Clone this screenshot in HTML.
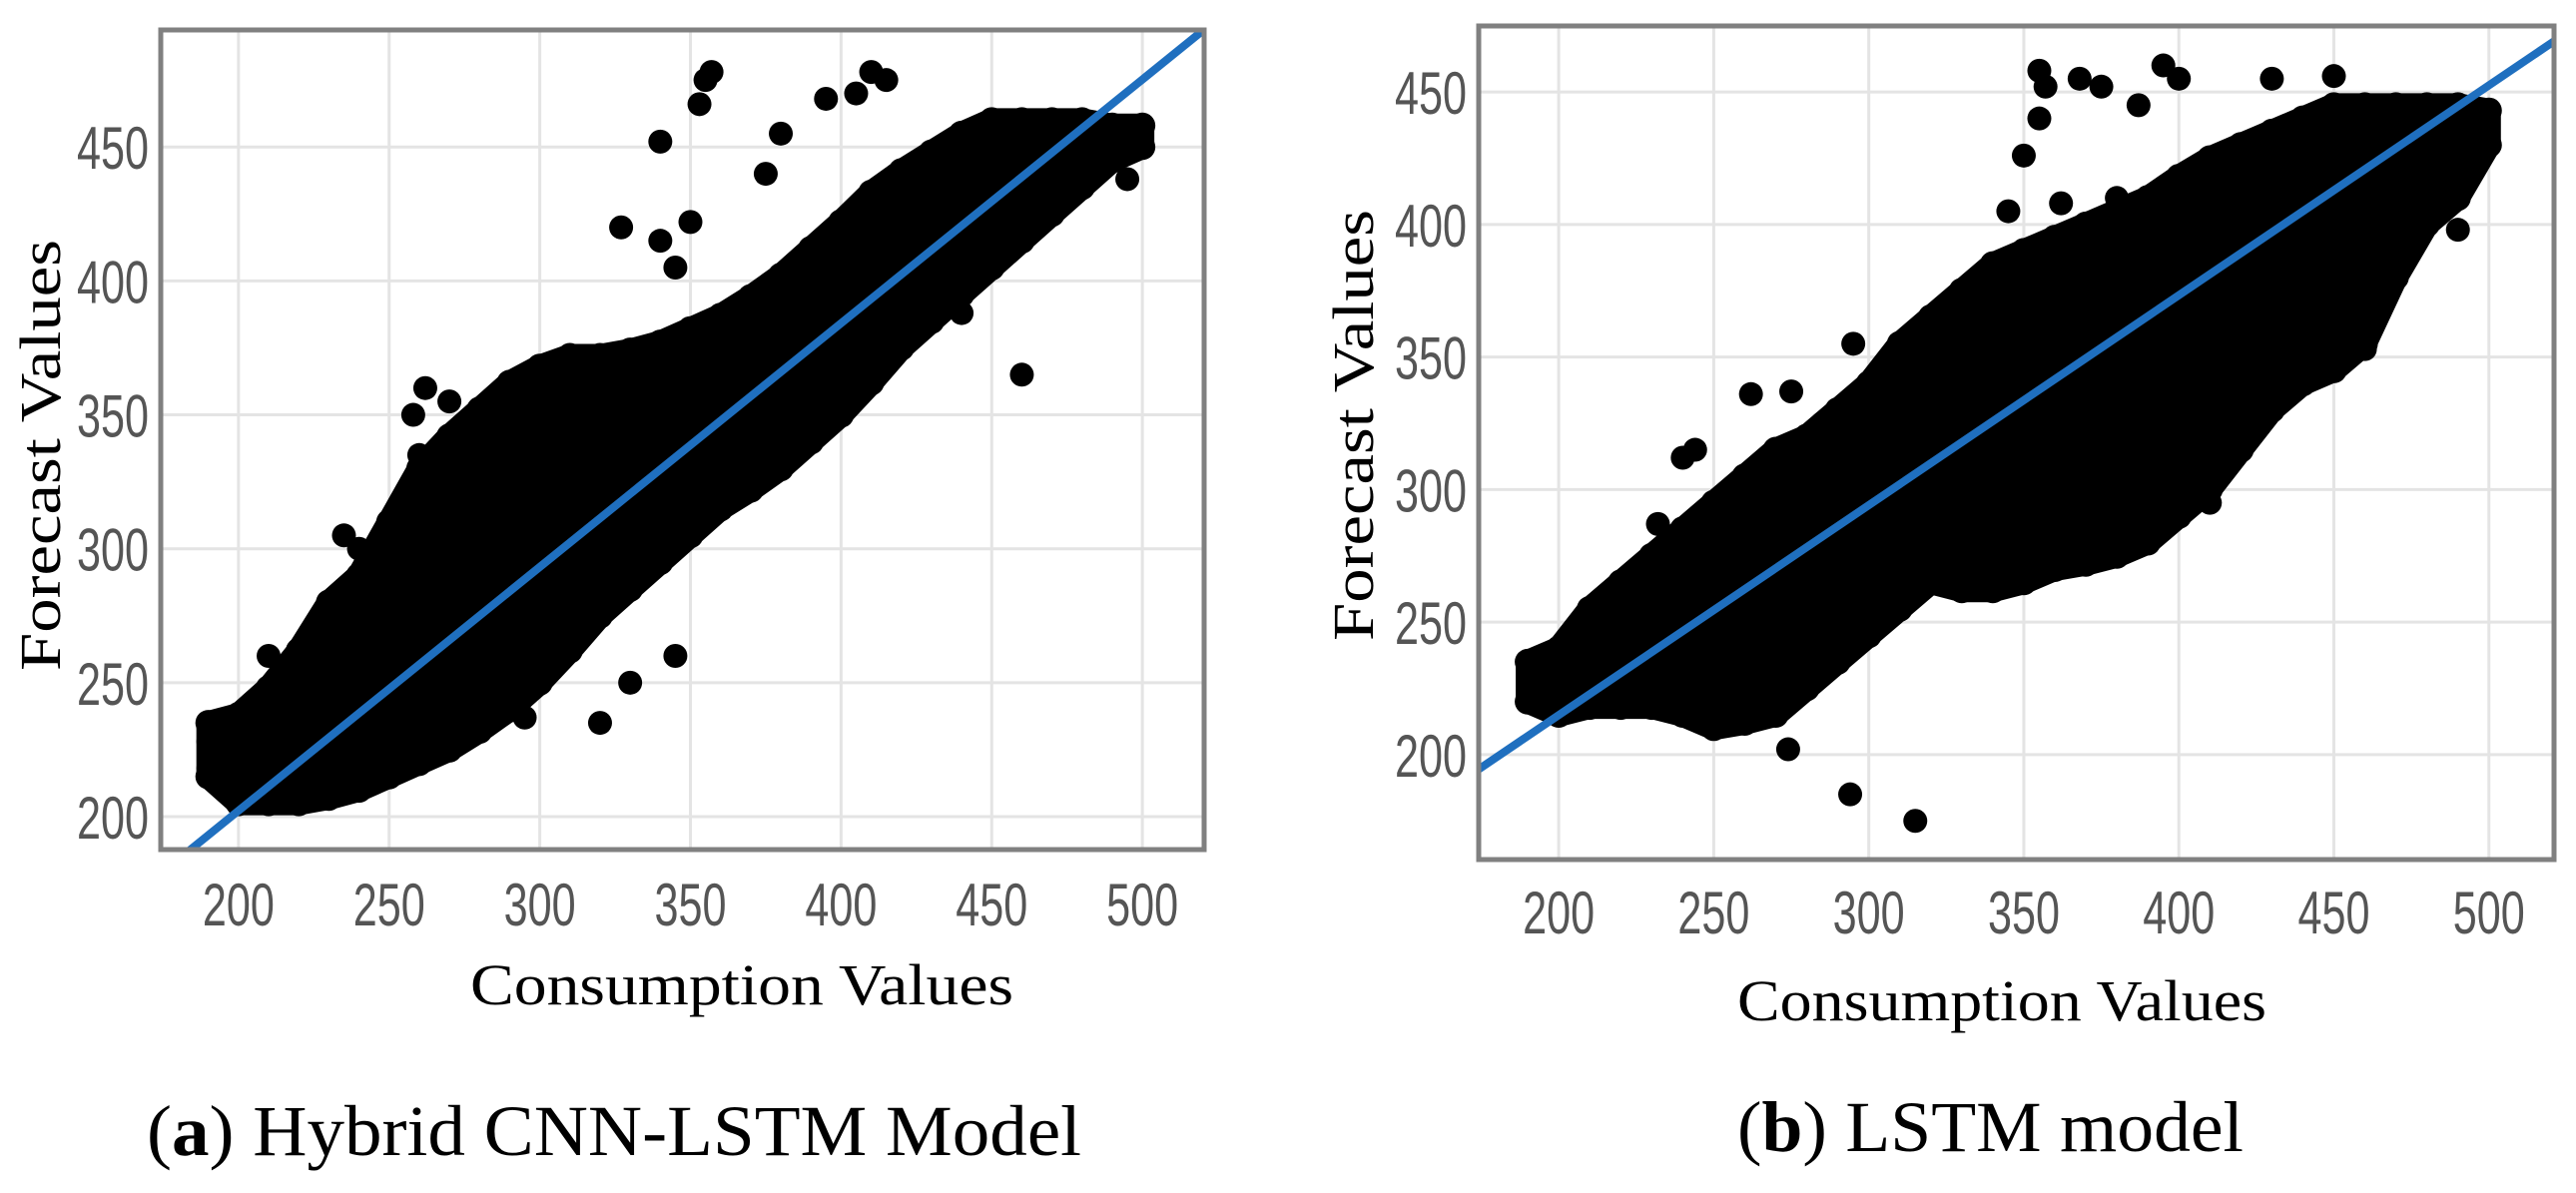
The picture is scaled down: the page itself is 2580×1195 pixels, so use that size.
<!DOCTYPE html>
<html><head><meta charset="utf-8"><style>
html,body{margin:0;padding:0;background:#fff;}
svg{display:block;}
.tick{font-family:"Liberation Sans",sans-serif;font-size:60px;fill:#555;}
.title{font-family:"Liberation Serif",serif;font-size:58px;fill:#000;}
.cap{font-family:"Liberation Serif",serif;font-size:72px;fill:#000;}
</style></head><body>
<svg id="fig" width="2580" height="1195" viewBox="0 0 2580 1195" xmlns="http://www.w3.org/2000/svg"></svg>
<script>
const xTicks = [200,250,300,350,400,450,500];
const yTicks = [200,250,300,350,400,450];
const envX = [190,200,210,220,230,240,250,260,270,280,290,300,310,320,330,340,350,360,370,380,390,400,410,420,430,440,450,460,470,480,490,500];
const aUpper = [235,238,248,262,280,290,310,330,342,352,362,368,372,372,374,377,382,387,394,402,412,422,433,441,448,455,460,460,460,460,458,458];
const aLower = [215,205,205,205,207,210,215,220,225,232,240,250,262,275,285,295,305,315,322,330,340,350,362,375,385,395,405,415,425,435,445,450];
const aOutX = [355,357,353,410,415,340,380,327,345,350,340,375,258,262,270,240,235,260,345,330,320,295,285,440,460,495,405,395,225,190,210,190];
const aOutY = [475,478,466,478,475,452,455,420,405,422,415,440,350,360,355,300,305,335,260,250,235,237,248,388,365,438,470,468,225,218,260,228];
const bUpper = [235,240,255,265,275,285,295,305,315,320,330,340,355,365,375,385,390,395,400,405,410,418,425,430,435,440,445,445,445,445,445,443];
const bLower = [220,215,218,218,218,215,210,212,215,225,235,245,255,265,262,262,265,270,272,275,280,290,300,315,330,340,345,355,380,400,410,430];
const bOutX = [355,357,355,368,375,350,345,362,387,395,400,430,450,380,294,315,274,240,244,232,262,275,295,460,490,500,500,285,410,420];
const bOutY = [458,452,440,455,452,426,405,408,445,460,455,455,456,410,185,175,202,312,315,287,336,337,355,353,398,442,430,325,295,315];
const aLine = [0.91, 20.2];
const bLine = [0.792, 56.5];

const NS = "http://www.w3.org/2000/svg";
const svg = document.getElementById('fig');
function mk(tag, attrs, parent){const e=document.createElementNS(NS,tag);for(const k in attrs)e.setAttribute(k,attrs[k]);(parent||svg).appendChild(e);return e;}

function panel(id, box, xlim, ylim, upper, lower, ox, oy, line, lay){
  const g = mk('g',{});
  
  
  const sx = v => box.x0 + (v - xlim[0])/(xlim[1]-xlim[0])*(box.x1-box.x0);
  const sy = v => box.y1 - (v - ylim[0])/(ylim[1]-ylim[0])*(box.y1-box.y0);
  const clipId = id+'-clip';
  const cp = mk('clipPath',{id:clipId},g);
  mk('rect',{x:box.x0,y:box.y0,width:box.x1-box.x0,height:box.y1-box.y0},cp);
  xTicks.forEach(t=>{
    const gl = mk('line',{x1:sx(t),x2:sx(t),y1:box.y0,y2:box.y1,stroke:'#e4e4e4','stroke-width':3},g);
    
    
    const tl = mk('text',{x:sx(t)-36,y:lay.tickY,class:'tick',textLength:72,lengthAdjust:'spacingAndGlyphs'},g);
    tl.textContent = t;
    
    
  });
  yTicks.forEach(t=>{
    const gl = mk('line',{x1:box.x0,x2:box.x1,y1:sy(t),y2:sy(t),stroke:'#e4e4e4','stroke-width':3},g);
    
    
    const tl = mk('text',{x:box.x0-12-72,y:sy(t)+22,class:'tick',textLength:72,lengthAdjust:'spacingAndGlyphs'},g);
    tl.textContent = t;
    
    
  });
  const pg = mk('g',{'clip-path':'url(#'+clipId+')'},g);
  let pts = envX.map((x,i)=>sx(x)+','+sy(upper[i]));
  for(let i=envX.length-1;i>=0;i--) pts.push(sx(envX[i])+','+sy(lower[i]));
  const poly = mk('polygon',{points:pts.join(' '),fill:'#000',stroke:'#000','stroke-width':24,'stroke-linejoin':'round'},pg);
  
  
  envX.forEach((x,i)=>{
    [upper[i],lower[i]].forEach(y=>{
      const c = mk('circle',{cx:sx(x),cy:sy(y),r:13,fill:'#000'},pg);
      
      
    });
  });
  ox.forEach((x,i)=>{
    const c = mk('circle',{cx:sx(x),cy:sy(oy[i]),r:12,fill:'#000'},pg);
    
    
  });
  const fl = mk('line',{x1:sx(xlim[0]),y1:sy(line[0]*xlim[0]+line[1]),x2:sx(xlim[1]),y2:sy(line[0]*xlim[1]+line[1]),stroke:'#1f6fbf','stroke-width':8},pg);
  
  
  const fr = mk('rect',{x:box.x0,y:box.y0,width:box.x1-box.x0,height:box.y1-box.y0,fill:'none',stroke:'#808080','stroke-width':5},g);
  
  
  const xt = mk('text',{x:lay.xtX,y:lay.xtY,class:'title',textLength:lay.xtW,lengthAdjust:'spacingAndGlyphs'},g);
  xt.textContent='Consumption Values';
  
  
  const yt = mk('text',{x:0,y:0,class:'title',textLength:432,lengthAdjust:'spacingAndGlyphs',transform:'translate('+lay.ytX+','+lay.ytBottom+') rotate(-90)'},g);
  yt.textContent='Forecast Values';
  
  
}
panel('a',{x0:161,x1:1206,y0:30,y1:851},[174.2,520.5],[187.7,493.7],aUpper,aLower,aOutX,aOutY,aLine,
  {tickY:927,xtX:471,xtY:1006,xtW:544,ytX:60,ytBottom:672});
panel('b',{x0:1481,x1:2558,y0:26,y1:861},[174.2,521],[160.4,474.9],bUpper,bLower,bOutX,bOutY,bLine,
  {tickY:935,xtX:1740,xtY:1022,xtW:530,ytX:1375,ytBottom:642});

const c1 = mk('text',{x:147,y:1157,class:'cap',textLength:936,lengthAdjust:'spacingAndGlyphs'});
c1.innerHTML='(<tspan font-weight="bold">a</tspan>) Hybrid CNN-LSTM Model';


const c2 = mk('text',{x:1740,y:1153,class:'cap',textLength:507,lengthAdjust:'spacingAndGlyphs'});
c2.innerHTML='(<tspan font-weight="bold">b</tspan>) LSTM model';


</script>
</body></html>
